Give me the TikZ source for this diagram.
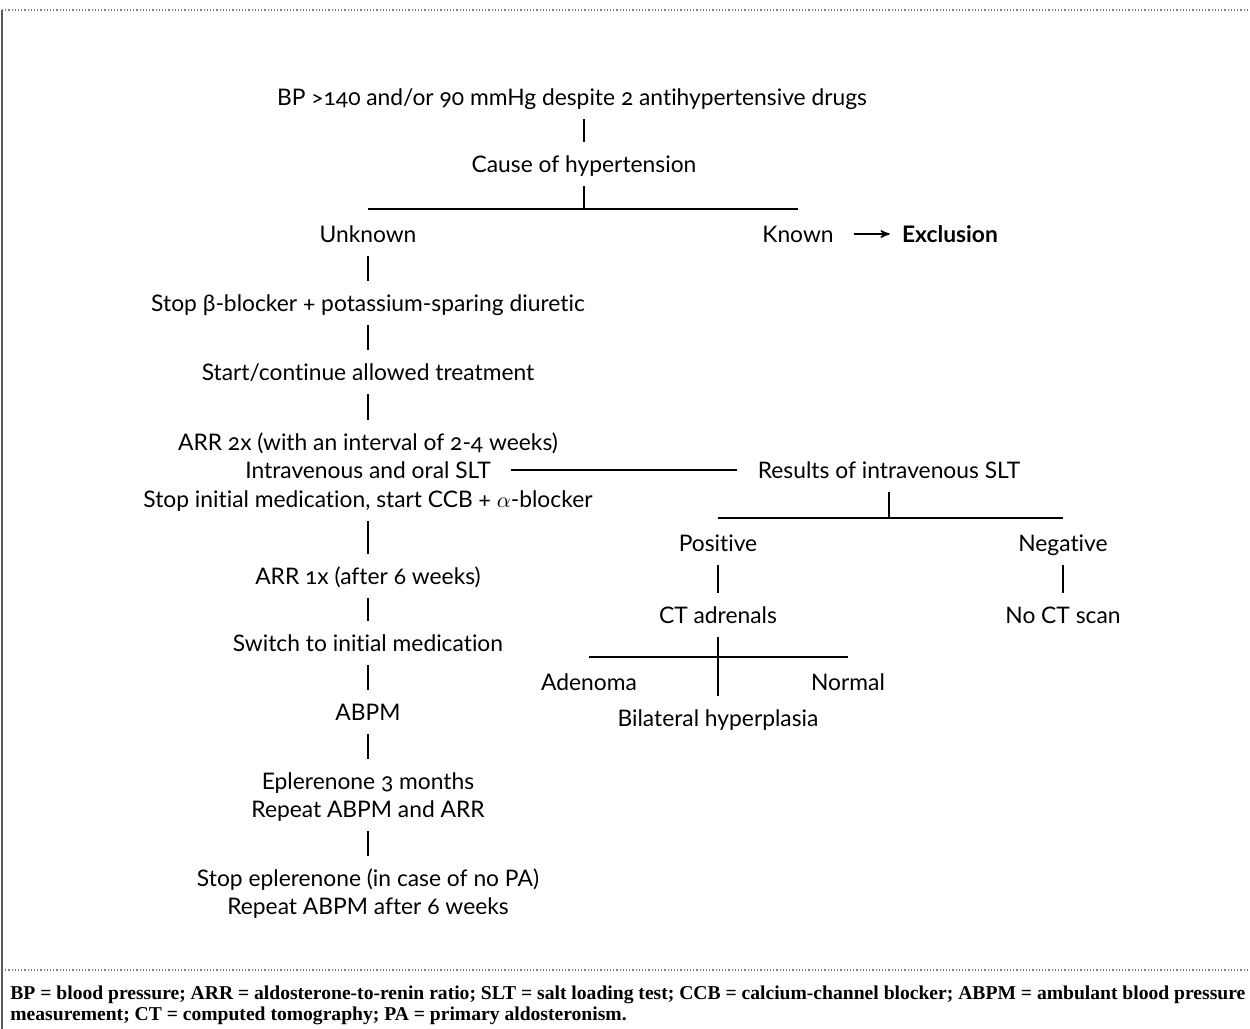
\documentclass[tikz,border=0pt]{standalone}
\usepackage{fontspec}
\setmainfont{Lato}[Numbers=OldStyle,Ligatures=NoCommon]
\newfontfamily\notefont{Liberation Serif}
\usepackage{tikz}
\usetikzlibrary{arrows,positioning}

\begin{document}
\begin{tikzpicture}[x=0.5pt,y=-0.5pt,node distance=34.5pt,
entry/.style={
font=\fontsize{11.4}{13}\selectfont,
inner xsep=10pt,
inner ysep=5.5pt,
text height=9.5pt,
text depth=1.5pt
},
link/.style={draw,line width=0.7pt},
to/.style={->,>=stealth',line width=0.7pt,shorten >=-4pt},
frame/.style={gray,line width=0.6pt,densely dotted}
]
\useasboundingbox (0,0) rectangle (1250,1029);
\draw[frame] (2,10) -- (1250,10);
\draw[frame] (2,970) -- (1250,970);
\draw[gray!70!black,line width=0.8pt] (2,10) -- (2,1029);

\node (title) [entry] at (572,97) {BP >140 and/or 90 mmHg despite 2 antihypertensive drugs};
\node (cause) [entry] at (584,164) {Cause of hypertension};
\coordinate (split1) at (584,209);
\node (unknown) [entry] at (368,234) {Unknown};
\node (known) [entry] at (798,234) {Known};
\node (excl) [entry,right of=known,node distance=76pt,font=\fontsize{11.4}{13}\selectfont\bfseries] {Exclusion};

% left column
\node (stopbb) [entry,below of=unknown] {Stop β-blocker + potassium-sparing diuretic};
\node (start) [entry,below of=stopbb] {Start/continue allowed treatment};
\node (arrtwo) [entry,below of=start,node distance=35pt] {ARR 2x (with an interval of 2-4 weeks)};
\node (ivslt) [entry,below of=arrtwo,node distance=14pt] {Intravenous and oral SLT};
\node (stopinit) [entry,below of=ivslt,node distance=14.5pt] {Stop initial medication, start CCB + $\alpha$-blocker};
\node (arrone) [entry,below of=stopinit,node distance=38.5pt] {ARR 1x (after 6 weeks)};
\node (switch) [entry,below of=arrone,node distance=33.5pt] {Switch to initial medication};
\node (abpm) [entry,below of=switch] {ABPM};
\node (epl) [entry,below of=abpm] {Eplerenone 3 months};
\node (repeat) [entry,below of=epl,node distance=14pt] {Repeat ABPM and ARR};
\node (stopepl) [entry,below of=repeat] {Stop eplerenone (in case of no PA)};
\node (repsix) [entry,below of=stopepl,node distance=14pt] {Repeat ABPM after 6 weeks};

% right branch
\node (results) [entry] at (889,470) {Results of intravenous SLT};
\coordinate (split2) at (889,518);
\node (positive) [entry] at (718,543) {Positive};
\node (negative) [entry] at (1063,543) {Negative};
\node (ctadr) [entry,below of=positive,node distance=36pt] {CT adrenals};
\node (noct) [entry,below of=negative,node distance=36pt] {No CT scan};
\coordinate (split3) at (718,657);
\node (adenoma) [entry] at (589,682) {Adenoma};
\node (normal) [entry] at (848,682) {Normal};
\node (bilat) [entry] at (718,718) {Bilateral hyperplasia};

\draw[link] (cause) -- (cause |- title.south);
\draw[link] (cause) -- (split1);
\draw[link] (unknown |- split1) -- (known |- split1);
\draw[to] (known) -- (excl);
\draw[link] (unknown) -- (stopbb);
\draw[link] (stopbb) -- (start);
\draw[link] (start) -- (arrtwo);
\draw[link] (stopinit) -- (arrone);
\draw[link] (arrone) -- (switch);
\draw[link] (switch) -- (abpm);
\draw[link] (abpm) -- (epl);
\draw[link] (repeat) -- (stopepl);
\draw[link] (ivslt) -- (results);
\draw[link] (results) -- (split2);
\draw[link] (positive |- split2) -- (negative |- split2);
\draw[link] (positive) -- (ctadr);
\draw[link] (negative) -- (noct);
\draw[link] (ctadr) -- (bilat);
\draw[link] (adenoma |- split3) -- (normal |- split3);

% abbreviations
\node (notes) [anchor=north west,align=left,inner sep=0pt,font=\notefont\bfseries\fontsize{9.8}{10.5}\selectfont] at (10,985) {BP = blood pressure; ARR = aldosterone-to-renin ratio; SLT = salt loading test; CCB = calcium-channel blocker; ABPM = ambulant blood pressure\\measurement; CT = computed tomography; PA = primary aldosteronism.};
\end{tikzpicture}
\end{document}
